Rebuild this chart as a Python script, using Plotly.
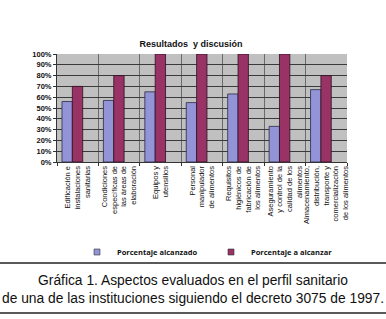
import plotly.graph_objects as go

categories = [
    "Edificación e<br>instalaciones<br>sanitarias",
    "Condiciones<br>específicas de<br>las áreas de<br>elaboración",
    "Equipos y<br>utensilios",
    "Personal<br>manipulador<br>de alimentos",
    "Requisitos<br>higiénicos de<br>fabricación de<br>los alimentos",
    "Aseguramiento<br>y control de la<br>calidad de los<br>alimentos",
    "Almacenamiento,<br>distribución,<br>transporte y<br>comercialización<br>de los alimentos",
]
alcanzado = [56, 57, 65, 55, 63, 33, 67]
a_alcanzar = [70, 80, 100, 100, 100, 100, 80]
series_names = ["Porcentaje alcanzado", "Porcentaje a alcanzar"]
y_ticks = [0, 10, 20, 30, 40, 50, 60, 70, 80, 90, 100]
y_ticklabels = [f"{v}%" for v in y_ticks]

title_text = "Resultados  y discusión"
caption_text = ("Gráfica 1. Aspectos evaluados en el perfil sanitario<br>"
                "de una de las instituciones siguiendo el decreto 3075 de 1997.")

BLUE = "#9393d8"
PURPLE = "#993366"

W, H = 386, 319
L, R, T, B = 57, 39, 54, 157
pw, ph = W - L - R, H - T - B

def px(x):
    return (x - L) / pw

def py(y):
    return (H - B - y) / ph

fig = go.Figure()
fig.add_trace(go.Bar(x=categories, y=alcanzado, name=series_names[0], showlegend=False,
                     offset=-0.38, width=0.25,
                     marker=dict(color=BLUE, line=dict(color="#2a2a40", width=0.8))))
fig.add_trace(go.Bar(x=categories, y=a_alcanzar, name=series_names[1], showlegend=False,
                     offset=-0.13, width=0.25,
                     marker=dict(color=PURPLE, line=dict(color="#2a1020", width=0.8))))
# legend entries with small square keys
for nm, col in zip(series_names, [BLUE, PURPLE]):
    fig.add_trace(go.Scatter(x=[None], y=[None], mode="markers", name=nm,
                             marker=dict(symbol="square", size=6, color=col,
                                         line=dict(color="#333", width=0.6))))

fig.update_layout(
    width=W, height=H,
    margin=dict(l=L, r=R, t=T, b=B, pad=0, autoexpand=False),
    paper_bgcolor="white",
    plot_bgcolor="#c0c0c0",
    barmode="overlay",
    font=dict(family="Liberation Sans, Arial, sans-serif", color="#111"),
    title=dict(text=f"<b>{title_text}</b>", x=191 / W, xref="container", xanchor="center",
               y=1 - 44 / H, yref="container", yanchor="middle", font=dict(size=9, color="#111")),
    showlegend=True,
    legend=dict(orientation="h", xref="container", x=77 / W, xanchor="left",
                yref="container", y=1 - 252 / H, yanchor="middle",
                font=dict(size=7.5, color="#111", family="Open Sans, Liberation Sans, sans-serif",
                          weight="bold"),
                itemwidth=30, entrywidth=89, bgcolor="rgba(0,0,0,0)"),
    xaxis=dict(
        tickangle=-90, tickfont=dict(size=7.5, color="#111"),
        tickson="boundaries", ticks="outside", ticklen=3, tickcolor="#333",
        showgrid=True, gridcolor="#6a6a6a", gridwidth=1,
        showline=True, linecolor="#333", linewidth=1, mirror=False, automargin=False,
    ),
    yaxis=dict(
        range=[0, 100], tickvals=y_ticks, ticktext=[f"<b>{t}</b>" for t in y_ticklabels],
        tickfont=dict(size=7.5, color="#111", family="Liberation Sans, Arial, sans-serif"),
        ticks="outside", ticklen=3, tickcolor="#333",
        showgrid=True, gridcolor="#3a3a3a", gridwidth=1,
        showline=True, linecolor="#333", linewidth=1, zeroline=False, automargin=False,
    ),
)

# caption with rules
fig.add_shape(type="line", xref="paper", yref="paper", x0=px(0), x1=px(W), y0=py(263), y1=py(263),
              line=dict(color="#222", width=1.5))
fig.add_shape(type="line", xref="paper", yref="paper", x0=px(0), x1=px(W), y0=py(313), y1=py(313),
              line=dict(color="#222", width=1.5))
fig.add_annotation(text=caption_text, xref="paper", yref="paper", x=px(193), y=py(289.5),
                   xanchor="center", yanchor="middle", showarrow=False, align="center",
                   font=dict(size=13.8, color="#111", family="Liberation Sans, Arial, sans-serif"))

fig.write_html("out.html", config={"displayModeBar": False},
               post_script="document.body.style.margin='0';document.body.style.overflow='hidden';")
